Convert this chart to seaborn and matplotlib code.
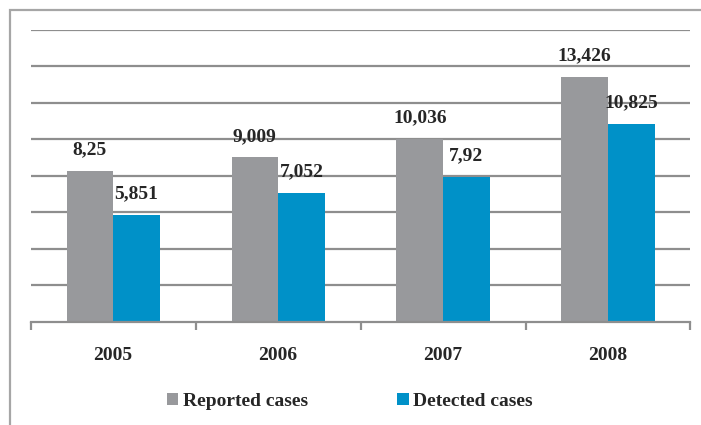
import matplotlib
matplotlib.use("Agg")
import matplotlib.pyplot as plt
from matplotlib.patches import Rectangle, Patch
import seaborn as sns
import pandas as pd

years = ["2005", "2006", "2007", "2008"]
reported = [8.25, 9.009, 10.036, 13.426]
detected = [5.851, 7.052, 7.92, 10.825]
series_names = ["Reported cases", "Detected cases"]
colors = ["#98999c", "#0091c8"]
grid_levels = [2, 4, 6, 8, 10, 12, 14, 16]

df = pd.DataFrame({
    "year": years * 2,
    "value": reported + detected,
    "series": [series_names[0]] * len(years) + [series_names[1]] * len(years),
})

sns.set_theme(style="white")
plt.rcParams["font.family"] = ["Liberation Serif", "DejaVu Serif"]

fig = plt.figure(figsize=(7.01, 4.25), dpi=100)
ax = fig.add_axes([30.7 / 701, 1 - 321.7 / 425, (690.5 - 30.7) / 701, (321.7 - 29.7) / 425])

sns.barplot(data=df, x="year", y="value", hue="series", order=years,
            hue_order=series_names, palette=colors, width=0.565,
            saturation=1, ax=ax, legend=False, zorder=3,
            linewidth=0, edgecolor="none")

grid_col = "#8e8e8e"
for g in grid_levels:
    ax.axhline(g, color=grid_col, lw=1.6, zorder=1)

ax.set_ylim(0, 16)
ax.set_xlim(-0.5, 3.5)
ax.set_yticks([])
ax.set_xlabel("")
ax.set_ylabel("")
for s in ["left", "right", "top"]:
    ax.spines[s].set_visible(False)
ax.spines["bottom"].set_color(grid_col)
ax.spines["bottom"].set_linewidth(1.6)
ax.spines["bottom"].set_zorder(4)

ax.set_xticks(range(len(years)))
ax.set_xticklabels(years, fontsize=14, fontweight="bold")
ax.tick_params(axis="x", which="major", length=0, pad=18)
ax.set_xticks([-0.5, 0.5, 1.5, 2.5, 3.5], minor=True)
ax.tick_params(axis="x", which="minor", length=6, width=1.6, color=grid_col, bottom=True)

# value labels above each bar
for cont in ax.containers:
    labels = [str(v).replace(".", ",") for v in cont.datavalues]
    ax.bar_label(cont, labels=labels, padding=9, fontsize=14, fontweight="bold", zorder=5)

handles = [Patch(facecolor=c, edgecolor="none") for c in colors]
fig.legend(handles, series_names, loc="center", bbox_to_anchor=(350 / 701, 1 - 401.7 / 425),
           ncol=2, frameon=False, prop={"size": 14, "weight": "bold"},
           handlelength=0.57, handleheight=0.57, handletextpad=0.25, columnspacing=4.6)

# outer chart border
fig.add_artist(Rectangle((10 / 701, -0.1), 1.2, 1 - 10 / 425 + 0.1, transform=fig.transFigure,
                         fill=False, edgecolor="#a6a6a6", lw=1.6))

fig.savefig("out.png", dpi=100)
